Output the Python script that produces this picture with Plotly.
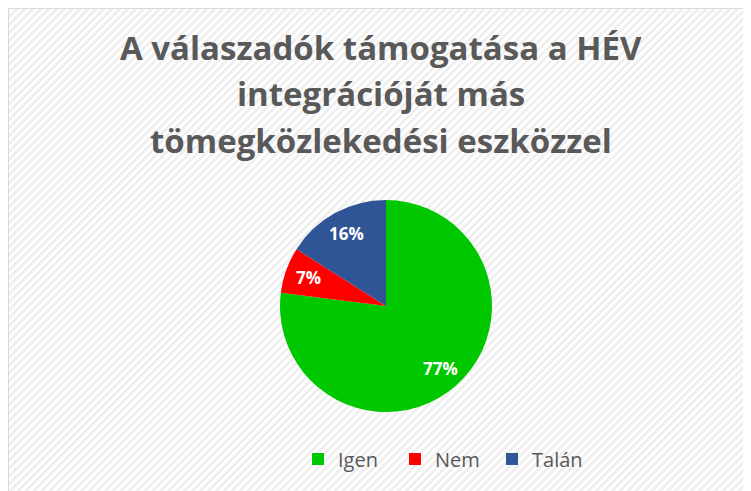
import base64
import math
import plotly.graph_objects as go

labels = ["Igen", "Nem", "Talán"]
values = [77, 7, 16]
colors = ["#00C800", "#FF0000", "#2F5597"]
title_lines = ["A válaszadók támogatása a HÉV", "integrációját más", "tömegközlekedési eszközzel"]

W, H = 743, 483  # page body adds an 8px margin

svg = f'''<svg xmlns="http://www.w3.org/2000/svg" width="{W}" height="{H}">
<defs><pattern id="p" width="5.6" height="5.6" patternUnits="userSpaceOnUse" patternTransform="rotate(-45)">
<rect width="5.6" height="5.6" fill="#ffffff"/><rect width="5.6" height="2.8" fill="#efefef"/></pattern></defs>
<rect width="{W}" height="{H}" fill="url(#p)"/></svg>'''
src = "data:image/svg+xml;base64," + base64.b64encode(svg.encode()).decode()

cx, cy, r = 378, 298, 106
dom_x = [(cx - r) / W, (cx + r) / W]
dom_y = [1 - (cy + r) / H, 1 - (cy - r) / H]

fig = go.Figure(go.Pie(
    labels=labels, values=values, sort=False, direction="clockwise", rotation=0,
    marker=dict(colors=colors, line=dict(width=0)),
    textinfo="none", domain=dict(x=dom_x, y=dom_y), hoverinfo="label+percent",
))

# percentage labels placed along each slice's mid-angle
total = sum(values)
acc = 0
for v in values:
    mid = (acc + v / 2) / total * 2 * math.pi
    acc += v
    px = cx + 0.78 * r * math.sin(mid)
    py = cy - 0.78 * r * math.cos(mid)
    fig.add_annotation(text=f"{round(100 * v / total)}%", x=px / W, y=1 - py / H,
                       xref="paper", yref="paper", showarrow=False,
                       xanchor="center", yanchor="middle",
                       font=dict(family="Open Sans", size=17, color="white", weight="bold"))

ys = [40, 86, 132]
for line, yy in zip(title_lines, ys):
    fig.add_annotation(text=line, x=0.502, xref="paper", y=1 - yy / H, yref="paper",
                       xanchor="center", yanchor="middle", showarrow=False,
                       font=dict(family="Open Sans", size=33, color="#595959", weight="bold"))

fig.add_shape(type="rect", xref="paper", yref="paper", x0=0.5 / W, y0=-0.05, x1=1.05, y1=1 - 0.5 / H,
              line=dict(color="#d9d9d9", width=1), fillcolor="rgba(0,0,0,0)", layer="above")

fig.update_layout(
    width=W, height=H, margin=dict(l=0, r=0, t=0, b=0),
    paper_bgcolor="white", plot_bgcolor="rgba(0,0,0,0)",
    images=[dict(source=src, xref="paper", yref="paper", x=0, y=1, sizex=1, sizey=1,
                 sizing="stretch", layer="below", xanchor="left", yanchor="top")],
    showlegend=True,
    legend=dict(orientation="h", x=290 / W, xanchor="left", y=1 - 451 / H, yanchor="middle",
                font=dict(family="Open Sans", size=20, color="#595959"),
                bgcolor="rgba(0,0,0,0)", itemwidth=30, entrywidth=52),
)

fig.write_html("out.html")
